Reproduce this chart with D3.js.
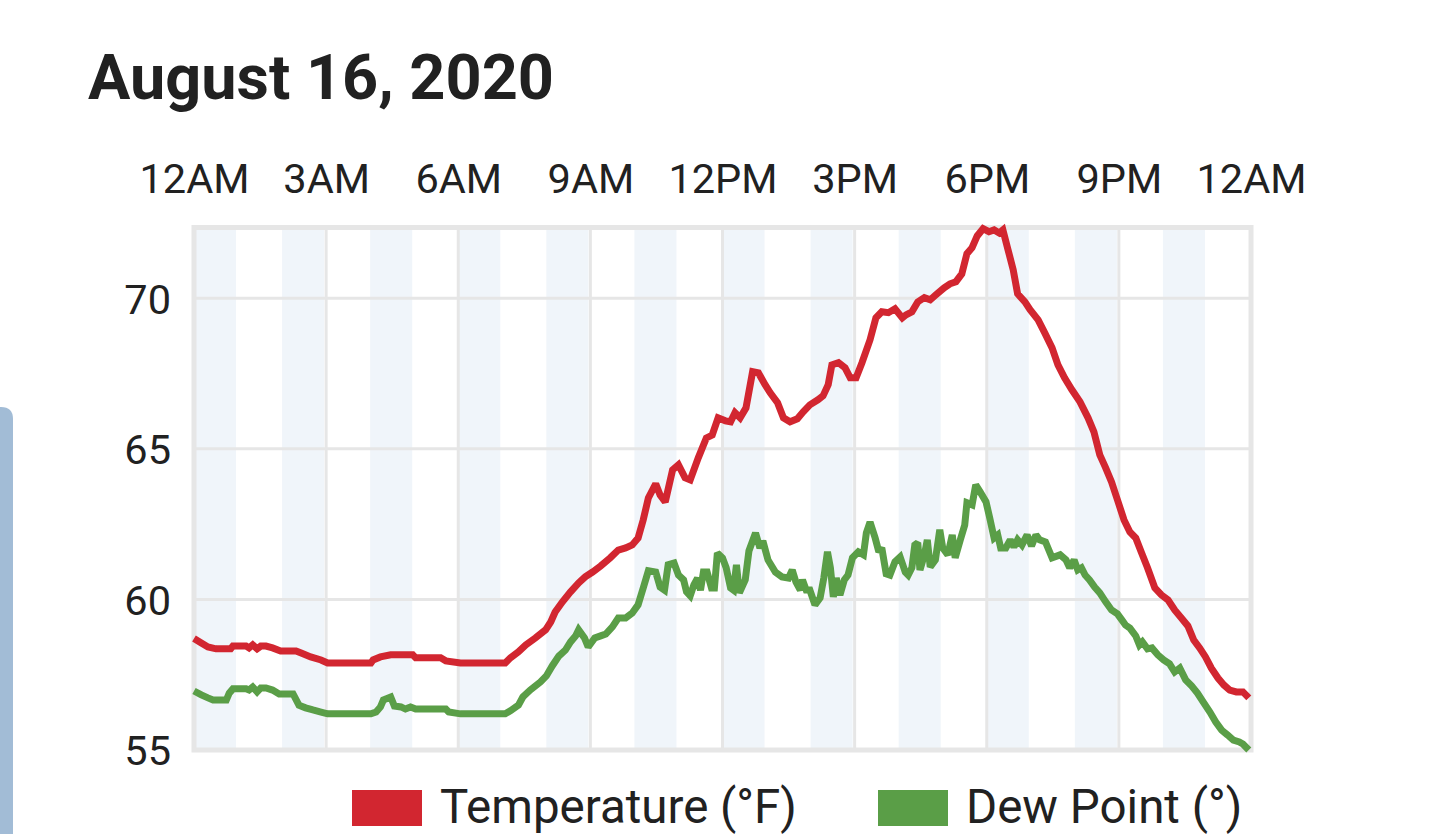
<!DOCTYPE html>
<html>
<head>
<meta charset="utf-8">
<script src="https://cdn.jsdelivr.net/npm/d3@7"></script>
<style>
  html, body { margin: 0; padding: 0; background: #ffffff; overflow: hidden; }
  svg { display: block; font-family: Roboto, "Noto Sans", sans-serif; }
</style>
</head>
<body>
<svg id="chart" width="1439" height="834"></svg>
<script>
const title = "August 16, 2020";
const xTickHours = [0, 3, 6, 9, 12, 15, 18, 21, 24];
const xTickLabels = ["12AM", "3AM", "6AM", "9AM", "12PM", "3PM", "6PM", "9PM", "12AM"];
const yTicks = [55, 60, 65, 70];
const bandStartHours = [0, 2, 4, 6, 8, 10, 12, 14, 16, 18, 20, 22];
const seriesNames = ["Temperature (°F)", "Dew Point (°)"];

const tempMinutes = [0,10,19,30,50,53,71,75,80,86,91,98,107,118,139,146,159,173,182,241,244,254,268,298,302,336,343,363,424,431,442,452,465,479,486,492,502,513,524,533,543,554,567,578,588,597,605,612,619,629,635,642,652,660,669,676,687,698,706,714,724,731,737,744,752,761,769,778,785,795,803,812,822,830,839,850,857,864,869,878,887,894,902,910,921,929,937,946,955,965,970,978,986,995,1003,1011,1022,1030,1038,1046,1053,1060,1067,1075,1083,1090,1097,1102,1109,1116,1122,1132,1139,1150,1159,1169,1177,1186,1196,1207,1218,1226,1234,1242,1250,1258,1267,1275,1283,1291,1299,1309,1318,1327,1336,1344,1354,1362,1370,1378,1386,1395,1403,1411,1420,1429,1437];
const tempValues = [58.7,58.55,58.42,58.36,58.36,58.45,58.45,58.39,58.49,58.36,58.45,58.45,58.39,58.29,58.29,58.22,58.09,57.99,57.89,57.89,57.99,58.09,58.16,58.16,58.06,58.06,57.96,57.89,57.89,58.06,58.26,58.49,58.72,58.99,59.25,59.58,59.92,60.25,60.55,60.75,60.91,61.11,61.38,61.64,61.71,61.81,62.04,62.64,63.37,63.84,63.47,63.24,64.3,64.47,64.04,63.97,64.7,65.36,65.46,66.03,65.93,65.9,66.2,66.03,66.36,67.56,67.52,67.13,66.86,66.53,66.03,65.9,66.0,66.23,66.46,66.63,66.76,67.13,67.79,67.86,67.69,67.36,67.36,67.86,68.62,69.35,69.55,69.52,69.65,69.35,69.45,69.55,69.88,70.02,69.95,70.12,70.35,70.48,70.55,70.81,71.48,71.68,72.07,72.31,72.21,72.27,72.17,72.27,71.61,70.95,70.15,69.88,69.62,69.28,68.85,68.35,67.79,67.36,66.96,66.56,66.03,65.56,64.8,64.37,63.9,63.31,62.64,62.24,62.04,61.54,61.05,60.38,60.15,59.98,59.65,59.42,59.12,58.65,58.39,58.09,57.72,57.39,57.16,56.99,56.93,56.93,56.73];

const dewMinutes = [0,10,19,26,44,48,53,71,75,80,86,91,98,107,116,135,143,152,162,173,182,241,248,254,258,268,273,282,288,295,302,343,347,363,424,431,442,448,458,472,480,488,497,506,513,520,524,532,537,546,554,561,570,578,588,597,605,612,619,629,635,641,646,654,660,667,671,676,681,686,690,694,699,705,709,713,720,725,731,735,739,743,751,756,765,771,775,782,792,801,810,815,820,826,829,834,839,846,853,858,863,867,871,875,880,886,891,897,905,912,916,921,928,933,937,943,948,955,962,969,973,978,982,986,989,995,999,1003,1010,1016,1020,1027,1033,1037,1044,1050,1053,1060,1065,1071,1079,1084,1090,1095,1099,1106,1112,1117,1122,1128,1135,1141,1147,1152,1160,1169,1180,1188,1193,1199,1204,1209,1214,1220,1227,1234,1242,1250,1258,1264,1269,1275,1283,1288,1292,1299,1305,1313,1321,1329,1336,1343,1351,1359,1367,1375,1384,1392,1400,1408,1416,1424,1429,1437];
const dewValues = [56.96,56.83,56.73,56.66,56.66,56.89,57.03,57.03,56.99,57.09,56.93,57.06,57.06,56.99,56.86,56.86,56.49,56.4,56.33,56.26,56.2,56.2,56.26,56.43,56.66,56.76,56.46,56.43,56.36,56.43,56.36,56.36,56.26,56.2,56.2,56.3,56.49,56.76,56.99,57.26,57.46,57.79,58.12,58.32,58.59,58.79,58.99,58.72,58.42,58.72,58.79,58.85,59.09,59.38,59.38,59.55,59.82,60.38,60.95,60.91,60.41,60.31,61.15,61.21,60.81,60.65,60.25,60.12,60.48,60.71,60.31,60.91,60.91,60.38,60.38,61.54,61.38,61.05,60.38,60.31,61.15,60.22,60.65,61.61,62.21,61.71,61.94,61.31,60.91,60.75,60.71,60.98,60.58,60.31,60.65,60.31,60.31,59.82,60.05,60.71,61.58,61.05,60.08,60.71,60.15,60.65,60.81,61.38,61.58,61.48,62.21,62.57,62.04,61.58,61.71,60.85,60.81,61.25,61.41,60.91,60.81,61.05,61.81,61.88,60.98,61.48,61.98,61.08,61.31,62.31,61.71,61.48,62.14,61.38,61.98,62.47,63.21,63.14,63.8,63.57,63.24,62.71,62.04,62.14,61.71,61.71,61.98,61.74,61.98,61.81,62.14,61.78,62.14,61.98,61.91,61.38,61.48,61.31,61.05,61.31,60.98,61.05,60.81,60.65,60.41,60.22,59.92,59.65,59.52,59.32,59.15,59.05,58.79,58.49,58.59,58.36,58.39,58.16,57.99,57.86,57.59,57.72,57.33,57.13,56.89,56.59,56.26,55.93,55.66,55.5,55.33,55.27,55.2,55.0];

const colors = ["#d22630", "#5a9e47"];
const svg = d3.select("#chart");

// left side panel (page chrome)
svg.append("path")
  .attr("d", "M0,407 L1,407 Q13,407 13,419 L13,834 L0,834 Z")
  .attr("fill", "#a2bcd6");

// title
svg.append("text")
  .attr("x", 88).attr("y", 99)
  .attr("font-size", 63).attr("font-weight", 700)
  .attr("fill", "#212121")
  .text(title);

const x = d3.scaleLinear().domain([0, 24]).range([194, 1251]);
const y = d3.scaleLinear().domain([55, 72.35]).range([750, 227.5]);

const g = svg.append("g");

// alternating hour bands
g.selectAll("rect.band").data(bandStartHours).join("rect")
  .attr("class", "band")
  .attr("x", d => x(d)).attr("width", d => x(d + 1) - x(d) - 2)
  .attr("y", y(72.35)).attr("height", y(55) - y(72.35))
  .attr("fill", "#f0f5fa");

// grid
g.selectAll("line.vg").data(xTickHours.slice(1, -1)).join("line")
  .attr("x1", d => x(d)).attr("x2", d => x(d))
  .attr("y1", y(72.35)).attr("y2", y(55))
  .attr("stroke", "#e6e6e6").attr("stroke-width", 3);
g.selectAll("line.hg").data(yTicks.slice(1)).join("line")
  .attr("y1", d => y(d)).attr("y2", d => y(d))
  .attr("x1", x(0)).attr("x2", x(24))
  .attr("stroke", "#e6e6e6").attr("stroke-width", 3);
g.append("rect")
  .attr("x", x(0)).attr("y", y(72.35))
  .attr("width", x(24) - x(0)).attr("height", y(55) - y(72.35))
  .attr("fill", "none").attr("stroke", "#e6e6e6").attr("stroke-width", 5);

// axes
const xAxis = d3.axisTop(x).tickValues(xTickHours)
  .tickFormat((d, i) => xTickLabels[i]).tickSize(0).tickPadding(0);
const xa = svg.append("g").attr("transform", "translate(0,193)").call(xAxis);
xa.select(".domain").remove();
xa.selectAll("text").attr("font-size", 41.5).attr("fill", "#212121")
  .attr("font-family", "Roboto").attr("dy", 0);

const yAxis = d3.axisLeft(y).tickValues(yTicks).tickSize(0).tickPadding(0);
const ya = svg.append("g").attr("transform", "translate(171,0)").call(yAxis);
ya.select(".domain").remove();
ya.selectAll("text").attr("font-size", 41.5).attr("fill", "#212121")
  .attr("font-family", "Roboto").attr("dy", "0.36em");

// lines
const line = d3.line().x(d => x(d[0] / 60)).y(d => y(d[1]));
const tempData = tempMinutes.map((m, i) => [m, tempValues[i]]);
const dewData = dewMinutes.map((m, i) => [m, dewValues[i]]);
[dewData, tempData].forEach((data, k) => {
  svg.append("path").datum(data)
    .attr("d", line)
    .attr("fill", "none")
    .attr("stroke", k === 0 ? colors[1] : colors[0])
    .attr("stroke-width", 7)
    .attr("stroke-linejoin", "miter")
    .attr("stroke-miterlimit", 2);
});

// legend
const legendX = [352, 878];
seriesNames.forEach((name, i) => {
  svg.append("rect").attr("x", legendX[i]).attr("y", 790)
    .attr("width", 70).attr("height", 36).attr("fill", colors[i]);
  svg.append("text").attr("x", legendX[i] + 88).attr("y", 823)
    .attr("font-size", 47.5).attr("fill", "#212121").text(name);
});
</script>
</body>
</html>
